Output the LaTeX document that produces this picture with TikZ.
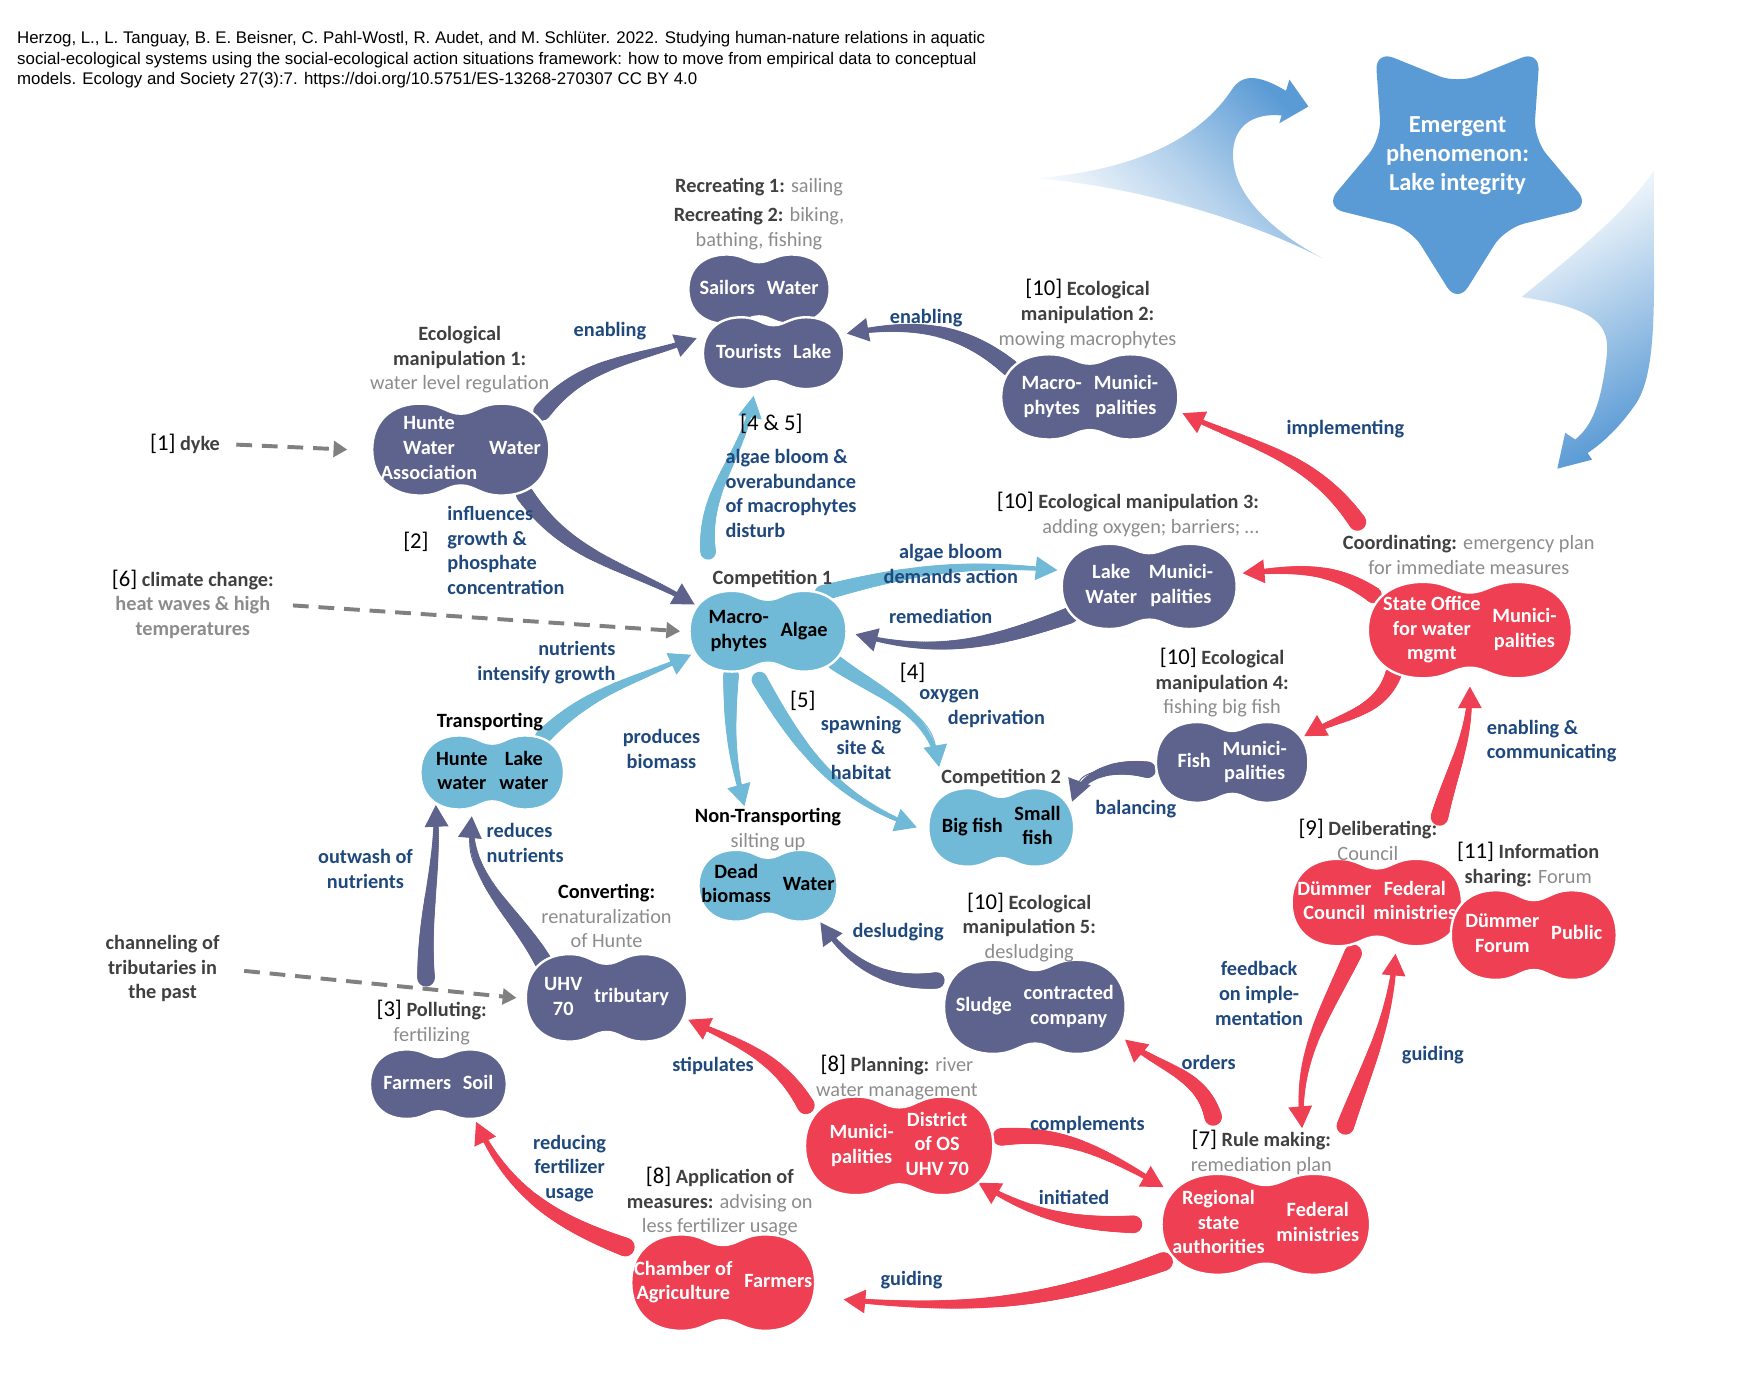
\documentclass[tikz,border=0pt]{standalone}
\usepackage{fontspec}
\setmainfont{Carlito}
\newfontfamily\citefont{Liberation Sans}
\usetikzlibrary{shapes.geometric, decorations.markings, backgrounds, arrows.meta}

\definecolor{navyc}{RGB}{93,99,140}
\definecolor{lbluec}{RGB}{112,185,215}
\definecolor{redc}{RGB}{238,64,82}
\definecolor{starblue}{RGB}{91,155,213}
\definecolor{lblc}{RGB}{31,73,125}
\definecolor{titlec}{RGB}{64,64,64}
\definecolor{subc}{RGB}{140,140,140}
\definecolor{dashc}{RGB}{128,128,128}

\newcommand{\fsz}{\fontsize{10.3}{12.5}\selectfont}
\newcommand{\subt}[1]{{\mdseries\color{subc}#1}}
\newcommand{\subb}[1]{{\color{subc}#1}}
\newcommand{\bnum}[1]{{\mdseries\color{black}\fontsize{11.5}{12.5}\selectfont[#1]}}
\newcommand{\twocol}[3][6pt]{\begin{tabular}{@{}c@{}}#2\end{tabular}\hspace{#1}\begin{tabular}{@{}c@{}}#3\end{tabular}}

% blob: name, x, y, half width, half height, fill, text colour, text
\newcommand{\blob}[8]{%
  \fill[#6, draw=white, line width=1.2pt, shift={(#2,#3)}, xscale=#4, yscale=#5]
    (-1,0) .. controls (-1,0.62) and (-0.78,1) .. (-0.46,1)
    .. controls (-0.22,1) and (-0.16,0.78) .. (0,0.78)
    .. controls (0.16,0.78) and (0.22,1) .. (0.46,1)
    .. controls (0.78,1) and (1,0.62) .. (1,0)
    .. controls (1,-0.62) and (0.78,-1) .. (0.46,-1)
    .. controls (0.22,-1) and (0.16,-0.78) .. (0,-0.78)
    .. controls (-0.16,-0.78) and (-0.22,-1) .. (-0.46,-1)
    .. controls (-0.78,-1) and (-1,-0.62) .. (-1,0) -- cycle;
  \node[blobnode, text=#7, minimum width={(2*#4+16)*0.2mm}, minimum height={(2*#5+14)*0.2mm}] (#1) at (#2,#3) {#8};
}

\begin{document}
\begin{tikzpicture}[
    x=0.2mm, y=-0.2mm,
    blobnode/.style={ellipse, inner sep=0pt, font=\fsz\bfseries},
    ttl/.style={font=\fsz\bfseries, text=titlec, align=center, inner sep=1pt},
    lbl/.style={font=\fsz\bfseries, text=lblc, align=center, inner sep=1pt},
    dashline/.style={draw=dashc, line width=2pt, dash pattern=on 8pt off 5pt,
        -{Triangle[length=7pt, width=8pt]}},
    taper/.style 2 args={draw=#2, line width=0.5pt, -{Triangle[length=11pt, width=12pt]},
        postaction={decorate, decoration={markings,
        mark=between positions 0 and 0.95 step 1pt with {
            \pgfmathsetmacro\tapr{#1*(1-0.78*\pgfkeysvalueof{/pgf/decoration/mark info/distance from start}/\pgfdecoratedpathlength)}
            \fill[#2] (0,0) circle (\tapr pt);}}}}
]
\useasboundingbox (0,0) rectangle (1568,1233);

% citation
\node[anchor=north west, inner sep=0pt, align=left, font=\citefont\fontsize{8.55}{10.2}\selectfont] (cite) at (15,28)
    {Herzog, L., L. Tanguay, B. E. Beisner, C. Pahl-Wostl, R. Audet, and M. Schlüter. 2022. Studying human-nature relations in aquatic\\
     social-ecological systems using the social-ecological action situations framework: how to move from empirical data to conceptual\\
     models. Ecology and Society 27(3):7. https://doi.org/10.5751/ES-13268-270307 CC BY 4.0};

% emergent phenomenon
\shade[top color=starblue, bottom color=white, middle color=starblue!45, shading angle=-45]
    (924,159) .. controls (1010,152) and (1070,125) .. (1100,78)
    .. controls (1110,65) and (1125,68) .. (1147,81) -- (1150,71) -- (1167,95) -- (1141,110) -- (1143,103)
    .. controls (1110,100) and (1095,120) .. (1101,150)
    .. controls (1108,185) and (1150,215) .. (1179,230)
    .. controls (1100,190) and (1000,165) .. (924,159) -- cycle;
\shade[top color=white, bottom color=starblue, middle color=starblue!50, shading angle=30]
    (1475,152) -- (1475,214) .. controls (1476,290) and (1475,340) .. (1457,363)
    .. controls (1445,380) and (1430,395) .. (1416,404) -- (1420,410) -- (1389,418) -- (1396,386) -- (1405,392)
    .. controls (1420,380) and (1428,360) .. (1433,318)
    .. controls (1436,290) and (1425,275) .. (1357,265)
    .. controls (1400,230) and (1450,190) .. (1475,152) -- cycle;
\node[star, star points=5, star point ratio=1.75, minimum size=50mm, inner sep=0pt, fill=starblue,
    shape border rotate=180, rounded corners=10pt] (star) at (1300,146) {};
\node[font=\fontsize{12.4}{14.8}\selectfont\bfseries, text=white, align=center] (star-t) at (1300,139)
    {Emergent\\phenomenon:\\Lake integrity};

% action situations
\blob{sail}{677}{258}{63}{31}{navyc}{white}{\twocol{Sailors}{Water}}
\blob{tour}{690}{315}{63}{32}{navyc}{white}{\twocol{Tourists}{Lake}}
\blob{hwa}{411}{401}{79}{41}{navyc}{white}{\twocol{Hunte\\Water\\Association}{Water}}
\blob{mac2}{972}{354}{79}{38}{navyc}{white}{\twocol{Macro-\\phytes}{Munici-\\palities}}
\blob{lwm}{1025}{523}{78}{38}{navyc}{white}{\twocol{Lake\\Water}{Munici-\\palities}}
\blob{macal}{685}{563}{70}{36}{lbluec}{black}{\twocol{Macro-\\phytes}{Algae}}
\blob{soff}{1311}{562}{91}{43}{redc}{white}{\twocol{State Office\\for water\\mgmt}{Munici-\\palities}}
\blob{fish}{1099}{680}{68}{36}{navyc}{white}{\twocol{Fish}{Munici-\\palities}}
\blob{hlw}{439}{689}{64}{33}{lbluec}{black}{\twocol{Hunte\\water}{Lake\\water}}
\blob{bigf}{893}{738}{65}{35}{lbluec}{black}{\twocol{Big fish}{Small\\fish}}
\blob{dead}{685}{790}{62}{32}{lbluec}{black}{\twocol{Dead\\biomass}{Water}}
\blob{dcf}{1228}{805}{76}{39}{redc}{white}{\twocol[1pt]{Dümmer\\Council}{Federal\\ministries}}
\blob{dfp}{1368}{834}{74}{40}{redc}{white}{\twocol{Dümmer\\Forum}{Public}}
\blob{uhv}{541}{890}{72}{39}{navyc}{white}{\twocol{UHV\\70}{tributary}}
\blob{sludge}{923}{898}{81}{42}{navyc}{white}{\twocol{Sludge}{contracted\\company}}
\blob{farm}{391}{967}{61}{31}{navyc}{white}{\twocol{Farmers}{Soil}}
\blob{dist}{802}{1022}{84}{44}{redc}{white}{\twocol{Munici-\\palities}{District\\of OS\\UHV 70}}
\blob{reg}{1129}{1092}{93}{45}{redc}{white}{\twocol{Regional\\state\\authorities}{Federal\\ministries}}
\blob{cham}{645}{1144}{82}{43}{redc}{white}{\twocol{Chamber of\\Agriculture}{Farmers}}

% titles
\node[ttl] (rec) at (677,191) {Recreating 1: \subt{sailing}\\[2.5pt]Recreating 2: \subt{biking,}\\\subt{bathing, fishing}};
\node[ttl] (eco1) at (410,321) {Ecological\\manipulation 1:\\\subt{water level regulation}};
\node[ttl] (dyke) at (165,396) {\bnum{1} dyke};
\node[ttl] (eco2) at (970,280) {\bnum{10} Ecological\\manipulation 2:\\\subt{mowing macrophytes}};
\node[ttl] (comp1) at (689,516) {Competition 1};
\node[ttl] (clim) at (172,539) {\bnum{6} climate change:\\\subb{heat waves \& high}\\\subb{temperatures}};
\node[ttl, text=black] (transp) at (437,644) {Transporting};
\node[ttl, align=right, anchor=east] (eco3) at (1125,459) {\bnum{10} Ecological manipulation 3:\\\subt{adding oxygen; barriers; \dots}};
\node[ttl] (coord) at (1310,495) {Coordinating: \subt{emergency plan}\\\subt{for immediate measures}};
\node[ttl] (eco4) at (1090,609) {\bnum{10} Ecological\\manipulation 4:\\\subt{fishing big fish}};
\node[ttl] (comp2) at (893,694) {Competition 2};
\node[ttl, text=black] (nontr) at (685,740) {Non-Transporting\\\subt{silting up}};
\node[ttl] (delib) at (1220,749) {\bnum{9} Deliberating:\\\subt{Council}};
\node[ttl] (info) at (1363,771) {\bnum{11} Information\\sharing: \subt{Forum}};
\node[ttl] (eco5) at (918,827) {\bnum{10} Ecological\\manipulation 5:\\\subt{desludging}};
\node[ttl, text=black] (conv) at (541,817) {Converting:\\\subt{renaturalization}\\\subt{of Hunte}};
\node[ttl] (chan) at (145,864) {channeling of\\tributaries in\\the past};
\node[ttl] (poll) at (385,912) {\bnum{3} Polluting:\\\subt{fertilizing}};
\node[ttl] (plan) at (800,961) {\bnum{8} Planning: \subt{river}\\\subt{water management}};
\node[ttl] (rule) at (1125,1028) {\bnum{7} Rule making:\\\subt{remediation plan}};
\node[ttl] (appl) at (642,1072) {\bnum{8} Application of\\measures: \subt{advising on}\\\subt{less fertilizer usage}};

% numbers
\node[ttl] (n2) at (371,483) {\bnum{2}};
\node[ttl] (n45) at (688,378) {\bnum{4 \& 5}};
\node[ttl] (n4) at (814,600) {\bnum{4}};
\node[ttl] (n5) at (716,625) {\bnum{5}};

% labels
\node[lbl, align=left, anchor=west] (l-infl) at (397,491) {influences\\growth \&\\phosphate\\concentration};
\node[lbl] (l-en1) at (544,295) {enabling};
\node[lbl] (l-en2) at (826,284) {enabling};
\node[lbl, align=left, anchor=west] (l-algae) at (645,440) {algae bloom \&\\overabundance\\of macrophytes\\disturb};
\node[lbl, align=right, anchor=east] (l-nut) at (551,591) {nutrients\\intensify growth};
\node[lbl] (l-abda) at (848,503) {algae bloom\\demands action};
\node[lbl] (l-rem) at (839,550) {remediation};
\node[lbl] (l-impl) at (1200,383) {implementing};
\node[lbl] (l-bal) at (1013,722) {balancing};
\node[lbl, align=left, anchor=west] (l-oxy) at (818,632) {oxygen\\\hspace*{1.4em}deprivation};
\node[lbl] (l-spawn) at (768,667) {spawning\\site \&\\habitat};
\node[lbl] (l-prod) at (590,668) {produces\\biomass};
\node[lbl, align=left, anchor=west] (l-encom) at (1324,661) {enabling \&\\communicating};
\node[lbl] (l-des) at (801,831) {desludging};
\node[lbl, align=left, anchor=west] (l-red) at (432,752) {reduces\\nutrients};
\node[lbl] (l-outw) at (326,775) {outwash of\\nutrients};
\node[lbl] (l-stip) at (636,951) {stipulates};
\node[lbl] (l-ord) at (1078,948) {orders};
\node[lbl] (l-comp) at (970,1003) {complements};
\node[lbl] (l-init) at (958,1068) {initiated};
\node[lbl] (l-feed) at (1123,886) {feedback\\on imple-\\mentation};
\node[lbl] (l-guid1) at (1278,941) {guiding};
\node[lbl] (l-guid2) at (813,1142) {guiding};
\node[lbl] (l-redf) at (508,1042) {reducing\\fertilizer\\usage};

% external drivers
\draw[dashline, shorten <=2.5mm] (dyke.east) -- (hwa.west);
\draw[dashline, shorten <=3mm] (clim.east) -- (macal.west);
\draw[dashline, shorten <=4mm] (chan.east) -- (uhv.west);

\begin{scope}[on background layer]
    % ecological interactions
    \path[taper={4.5}{navyc}] (hwa.25) to[out=50, in=200] (tour.169);
    \path[taper={4.5}{navyc}] (mac2.160) to[out=140, in=10] (tour.15);
    \path[taper={4.5}{navyc}] (hwa.-35) to[out=-55, in=150] (macal.160);
    \path[taper={4.2}{navyc}] (lwm.200) to[out=200, in=-15] (macal.-2);
    \path[taper={4.2}{navyc}] (fish.185) to[out=170, in=70] (bigf.20);
    \path[taper={4.2}{navyc}] (sludge.165) to[out=185, in=-55] (dead.-35);
    \path[taper={4.5}{navyc}] (uhv.150) to[out=120, in=-95] (hlw.-115);
    \path[taper={4.5}{navyc}] ([shift={(-5,-18)}]poll.north) to[out=92, in=-88] (hlw.-150);
    \path[taper={4}{lbluec}] ([shift={(-2,-14)}]comp1.north west) to[out=95, in=-100] (tour.-115);
    \path[taper={4}{lbluec}] (hlw.35) to[out=45, in=205] (macal.197);
    \path[taper={4}{lbluec}] (macal.35) to[out=15, in=175] (lwm.170);
    \path[taper={4}{lbluec}] (macal.-25) to[out=-35, in=100] (comp2.north west);
    \path[taper={4}{lbluec}] (macal.-100) to[out=-60, in=160] (bigf.180);
    \path[taper={4}{lbluec}] (macal.-130) to[out=-92, in=105] (nontr.135);
    % governance
    \path[taper={4.5}{redc}] ([shift={(15,-10)}]coord.north west) to[out=125, in=-25] (mac2.-10);
    \path[taper={4.2}{redc}] (soff.160) to[out=145, in=5] (lwm.8);
    \path[taper={4.2}{redc}] (soff.-150) to[out=-110, in=30] (fish.20);
    \path[taper={4.5}{redc}] (delib.north east) to[out=75, in=-90] (soff.-90);
    \path[taper={4.5}{redc}] ([shift={(-6,-8)}]dist.160) to[out=120, in=-25] (uhv.-15);
    \path[taper={4.5}{redc}] ([shift={(22,-10)}]rule.north west) to[out=105, in=-40] (sludge.-20);
    \path[taper={4.5}{redc}] (dist.5) to[out=5, in=150] (reg.160);
    \path[taper={4.5}{redc}] (reg.180) to[out=180, in=-30] (dist.-25);
    \path[taper={4.5}{redc}] (dcf.-115) to[out=-115, in=95] (rule.31);
    \path[taper={4.5}{redc}] ([shift={(10,-2)}]rule.north east) to[out=70, in=-95] (dcf.-70);
    \path[taper={4.8}{redc}] (reg.200) to[out=200, in=-5] (cham.-8);
    \path[taper={4.8}{redc}] (cham.160) to[out=160, in=-65] (farm.-45);
\end{scope}
\end{tikzpicture}
\end{document}
